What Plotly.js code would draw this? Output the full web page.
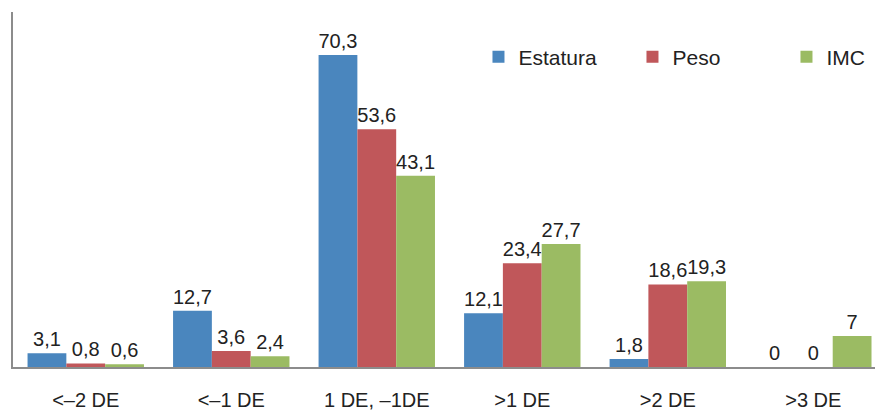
<!DOCTYPE html>
<html>
<head>
<meta charset="utf-8">
<script src="https://cdn.plot.ly/plotly-3.0.1.min.js"></script>
<style>html,body{margin:0;padding:0;background:#fff;}</style>
</head>
<body>
<div id="chart" style="width:875px;height:410px;"></div>
<script>
const categories = ["<\u20132 DE", "<\u20131 DE", "1 DE, \u20131DE", ">1 DE", ">2 DE", ">3 DE"];
const estatura = [3.1, 12.7, 70.3, 12.1, 1.8, 0];
const peso = [0.8, 3.6, 53.6, 23.4, 18.6, 0];
const imc = [0.6, 2.4, 43.1, 27.7, 19.3, 7];

const fmt = v => String(v).replace('.', ',');
const mk = (name, vals, color) => ({
  type: 'bar', name: name, x: categories, y: vals,
  text: vals.map(fmt), textposition: 'outside', cliponaxis: false, constraintext: 'none',
  textfont: {family: 'Liberation Sans, Arial, sans-serif', size: 20, color: '#222'},
  marker: {color: color}, hoverinfo: 'none'
});
const data = [
  mk('Estatura', estatura, '#4A86BE'),
  mk('Peso', peso, '#C0575A'),
  mk('IMC', imc, '#9BBB63')
];
const layout = {
  width: 875, height: 410,
  margin: {l: 13, r: 0, t: 12, b: 43, autoexpand: false},
  paper_bgcolor: '#fff', plot_bgcolor: '#fff',
  barmode: 'group', bargap: 0.2, bargroupgap: 0,
  font: {family: 'Liberation Sans, Arial, sans-serif', size: 20, color: '#222'},
  xaxis: {range: [-0.5, 5.424], showline: true, linecolor: '#8c8c8c', linewidth: 2, ticks: '', ticklabelstandoff: 14, tickfont: {size: 20, color: '#222'}, fixedrange: true, automargin: false},
  yaxis: {range: [0, 80], showline: true, linecolor: '#8c8c8c', linewidth: 2, showgrid: false, zeroline: false, showticklabels: false, ticks: '', fixedrange: true, automargin: false},
  showlegend: true,
  legend: {orientation: 'h', x: 0.54, y: 0.873, xanchor: 'left', yanchor: 'middle', entrywidth: 109, entrywidthmode: 'pixels', font: {size: 21, color: '#222'}, bgcolor: 'rgba(0,0,0,0)'}
};
Plotly.newPlot('chart', data, layout, {staticPlot: true});
</script>
</body>
</html>
